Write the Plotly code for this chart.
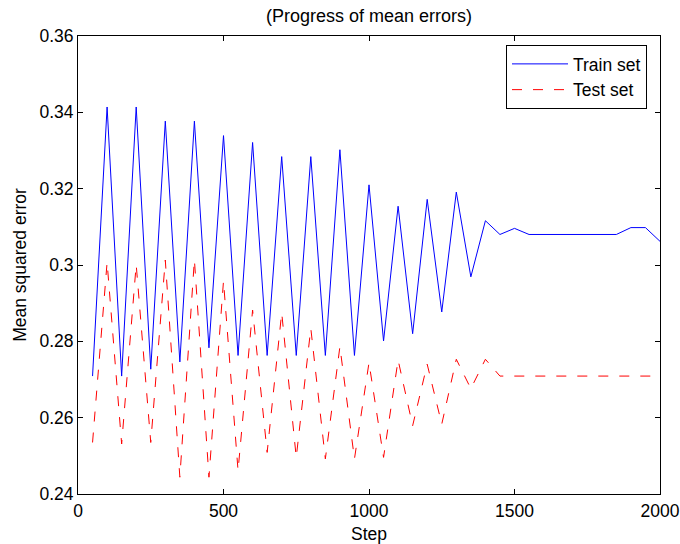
import plotly.graph_objects as go

steps = list(range(50, 2001, 50))

train_mse = [
    0.2709, 0.3414, 0.2709, 0.3414, 0.2727, 0.3377, 0.2746, 0.3377, 0.2783, 0.3339,
    0.2763, 0.3321, 0.2763, 0.3284, 0.2763, 0.3284, 0.2763, 0.3302, 0.2763, 0.3210,
    0.2801, 0.3154, 0.2820, 0.3172, 0.2877, 0.3191, 0.2969, 0.3116, 0.3080, 0.3096,
    0.3080, 0.3080, 0.3080, 0.3080, 0.3080, 0.3080, 0.3080, 0.3098, 0.3098, 0.3062,
]

test_mse = [
    0.2535, 0.3007, 0.2531, 0.3001, 0.2535, 0.3013, 0.2444, 0.3014, 0.2444, 0.2958,
    0.2461, 0.2882, 0.2509, 0.2875, 0.2496, 0.2834, 0.2492, 0.2786, 0.2492, 0.2744,
    0.2496, 0.2751, 0.2579, 0.2740, 0.2583, 0.2753, 0.2676, 0.2753, 0.2709, 0.2709,
    0.2709, 0.2709, 0.2709, 0.2709, 0.2709, 0.2709, 0.2709, 0.2709, 0.2709, 0.2709,
]

x_ticks = [0, 500, 1000, 1500, 2000]
y_ticks = [0.24, 0.26, 0.28, 0.30, 0.32, 0.34, 0.36]
y_tick_text = ["0.24", "0.26", "0.28", "0.3", "0.32", "0.34", "0.36"]

FONT = "Liberation Sans, Arial, Helvetica, sans-serif"

fig = go.Figure()
fig.add_trace(go.Scatter(
    x=steps, y=train_mse, mode="lines", name="Train set",
    line=dict(color="#0000ff", width=1),
))
fig.add_trace(go.Scatter(
    x=steps, y=test_mse, mode="lines", name="Test set",
    line=dict(color="#ff0000", width=1, dash="10px,11px"),
))

axis_common = dict(
    showline=True, linecolor="black", linewidth=1, mirror="ticks",
    ticks="inside", ticklen=5, tickcolor="black", tickwidth=1,
    showgrid=False, zeroline=False, automargin=False,
    tickfont=dict(family=FONT, size=17.5, color="black"),
)

fig.update_layout(
    width=680, height=544,
    margin=dict(l=78, r=20, t=36, b=50),
    paper_bgcolor="white", plot_bgcolor="white",
    font=dict(family=FONT, size=17.5, color="black"),
    title=dict(
        text="(Progress of mean errors)",
        x=(78 + 660) / 2 / 680, xanchor="center",
        y=1 - 15.5 / 544, yanchor="middle", yref="container",
        font=dict(family=FONT, size=18, color="black"),
    ),
    xaxis=dict(
        range=[0, 2000], tickvals=x_ticks, ticktext=[str(v) for v in x_ticks],
        title=dict(text="Step", standoff=14, font=dict(family=FONT, size=17.5)),
        ticklabelstandoff=1,
        **axis_common,
    ),
    yaxis=dict(
        range=[0.24, 0.36], tickvals=y_ticks, ticktext=y_tick_text,
        title=dict(text="Mean squared error", standoff=8, font=dict(family=FONT, size=17.5)),
        ticklabelstandoff=0,
        **axis_common,
    ),
    legend=dict(
        x=(647 - 78) / 582, y=(494 - 45) / 458, xanchor="right", yanchor="top",
        bgcolor="white", bordercolor="black", borderwidth=1,
        font=dict(family=FONT, size=17.5, color="black"),
        itemwidth=56,
        tracegroupgap=0,
    ),
    showlegend=True,
)

fig.write_html(
    "out.html",
    config={"displayModeBar": False},
    post_script="document.body.style.margin='0';",
)
